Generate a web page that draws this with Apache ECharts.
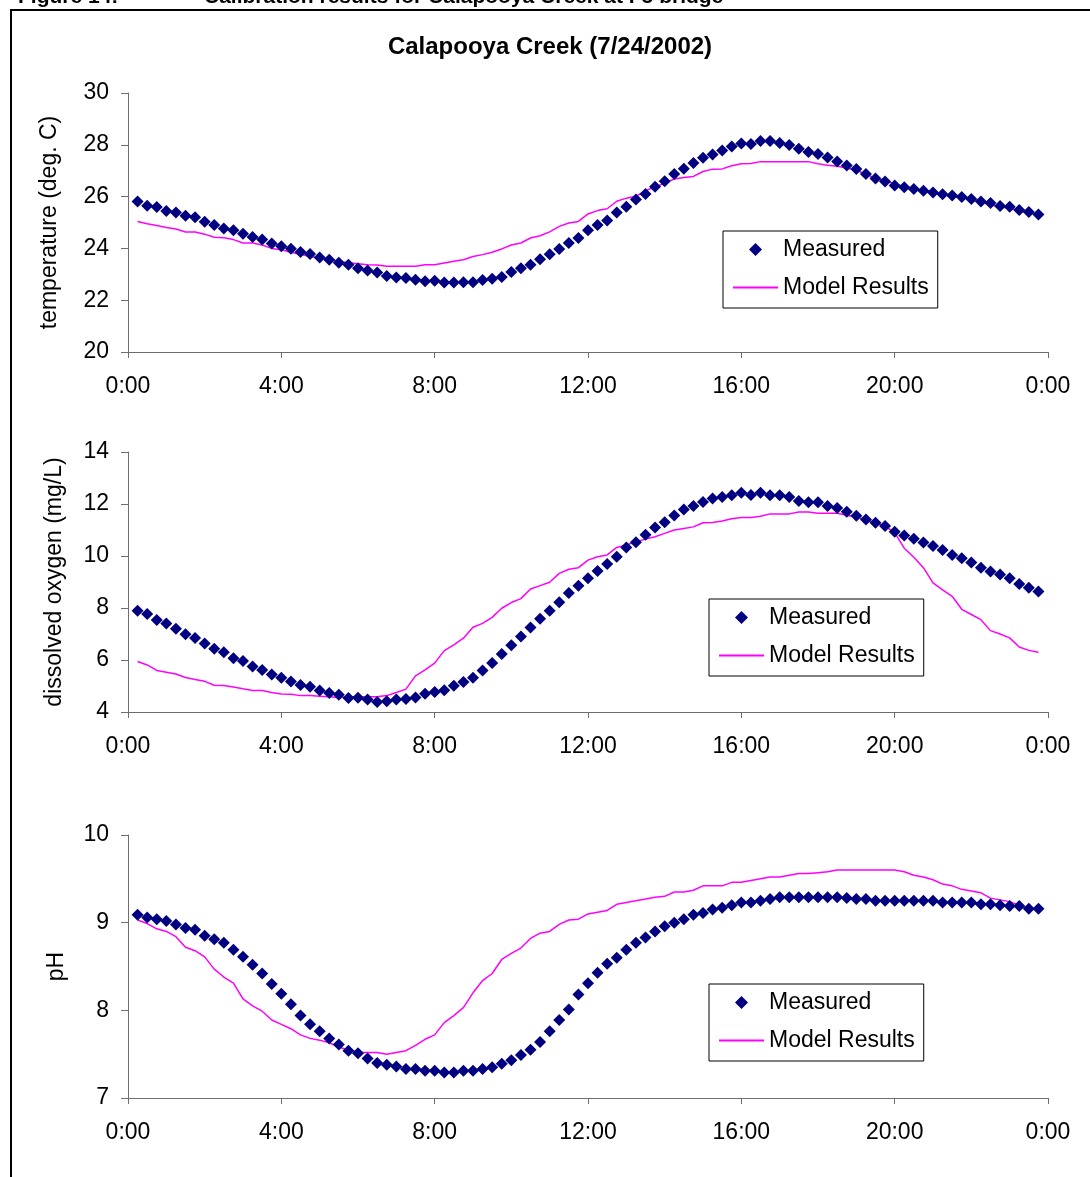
<!DOCTYPE html>
<html>
<head>
<meta charset="utf-8">
<script src="https://cdn.jsdelivr.net/npm/echarts@6/dist/echarts.min.js"></script>
<style>
  html, body { margin: 0; padding: 0; background: #fff; }
  #chart { width: 1090px; height: 1177px; }
</style>
</head>
<body>
<div id="chart"></div>
<script>
// readings every 15 minutes, 0:15 .. 23:45
const STEP_HOURS = 0.25

const tempMeasured = [
  25.81, 25.65, 25.6, 25.44, 25.39, 25.26, 25.2, 25.03, 24.9, 24.77,
  24.7, 24.57, 24.44, 24.34, 24.19, 24.08, 23.99, 23.86, 23.78, 23.65,
  23.56, 23.45, 23.37, 23.23, 23.15, 23.07, 22.93, 22.88, 22.86, 22.79,
  22.73, 22.75, 22.68, 22.68, 22.69, 22.69, 22.78, 22.83, 22.9, 23.09,
  23.23, 23.37, 23.58, 23.77, 23.98, 24.21, 24.4, 24.7, 24.9, 25.08,
  25.39, 25.61, 25.89, 26.1, 26.38, 26.59, 26.87, 27.08, 27.3, 27.5,
  27.63, 27.78, 27.93, 28.05, 28.03, 28.15, 28.15, 28.07, 27.99, 27.85,
  27.72, 27.64, 27.51, 27.36, 27.2, 27.07, 26.87, 26.7, 26.58, 26.43,
  26.36, 26.29, 26.23, 26.16, 26.09, 26.04, 25.98, 25.91, 25.81, 25.75,
  25.64, 25.61, 25.48, 25.41, 25.31
]
const tempModel = [
  25.04, 24.95, 24.88, 24.81, 24.75, 24.63, 24.63, 24.55, 24.43, 24.41,
  24.34, 24.21, 24.21, 24.13, 24.0, 23.95, 23.85, 23.77, 23.69, 23.63,
  23.56, 23.5, 23.45, 23.41, 23.37, 23.36, 23.31, 23.31, 23.31, 23.31,
  23.37, 23.37, 23.44, 23.5, 23.56, 23.69, 23.76, 23.85, 23.98, 24.13,
  24.21, 24.4, 24.49, 24.64, 24.85, 24.98, 25.04, 25.33, 25.46, 25.53,
  25.82, 25.94, 26.01, 26.23, 26.37, 26.52, 26.68, 26.74, 26.78, 26.97,
  27.06, 27.07, 27.19, 27.27, 27.28, 27.35, 27.35, 27.35, 27.35, 27.35,
  27.35, 27.27, 27.21, 27.17, 27.1, 27.02, 26.87, 26.7, 26.6, 26.5,
  26.38, 26.3, 26.22, 26.15, 26.08, 26.02, 25.96, 25.88, 25.78, 25.68,
  25.6, 25.55, 25.45, 25.38, 25.3
]

const doMeasured = [
  7.89, 7.77, 7.54, 7.4, 7.2, 6.99, 6.85, 6.63, 6.43, 6.3,
  6.07, 5.96, 5.75, 5.62, 5.44, 5.32, 5.17, 5.04, 4.97, 4.83,
  4.73, 4.66, 4.54, 4.55, 4.48, 4.38, 4.41, 4.48, 4.5, 4.56,
  4.7, 4.77, 4.84, 5.01, 5.15, 5.32, 5.6, 5.88, 6.23, 6.57,
  6.9, 7.25, 7.59, 7.89, 8.22, 8.58, 8.86, 9.14, 9.42, 9.69,
  9.97, 10.33, 10.53, 10.82, 11.1, 11.3, 11.56, 11.79, 11.92, 12.08,
  12.21, 12.27, 12.34, 12.43, 12.35, 12.43, 12.34, 12.34, 12.27, 12.12,
  12.07, 12.07, 11.92, 11.85, 11.7, 11.55, 11.4, 11.28, 11.15, 10.93,
  10.79, 10.66, 10.52, 10.38, 10.23, 10.04, 9.91, 9.75, 9.55, 9.4,
  9.29, 9.14, 8.92, 8.78, 8.63
]
const doModel = [
  5.94, 5.81, 5.6, 5.53, 5.46, 5.33, 5.25, 5.18, 5.03, 5.02,
  4.96, 4.89, 4.83, 4.83, 4.75, 4.69, 4.68, 4.63, 4.63, 4.61,
  4.59, 4.56, 4.59, 4.59, 4.59, 4.59, 4.63, 4.75, 4.88, 5.39,
  5.62, 5.88, 6.36, 6.58, 6.84, 7.26, 7.41, 7.64, 7.99, 8.21,
  8.36, 8.73, 8.86, 8.99, 9.33, 9.49, 9.55, 9.84, 9.97, 10.04,
  10.33, 10.42, 10.55, 10.65, 10.74, 10.87, 11.0, 11.06, 11.12, 11.28,
  11.29, 11.35, 11.43, 11.48, 11.48, 11.53, 11.62, 11.62, 11.62, 11.69,
  11.69, 11.64, 11.64, 11.64, 11.57, 11.5, 11.4, 11.28, 11.15, 10.9,
  10.3, 9.95, 9.55, 8.97, 8.7, 8.45, 7.95, 7.75, 7.55, 7.13,
  7.0, 6.85, 6.5, 6.37, 6.3
]

const phMeasured = [
  9.09, 9.06, 9.04, 9.02, 8.98, 8.94, 8.92, 8.85, 8.81, 8.77,
  8.69, 8.61, 8.52, 8.42, 8.3, 8.19, 8.07, 7.94, 7.84, 7.76,
  7.68, 7.61, 7.54, 7.51, 7.45, 7.4, 7.38, 7.36, 7.33, 7.33,
  7.31, 7.31, 7.29, 7.29, 7.31, 7.31, 7.33, 7.35, 7.39, 7.43,
  7.49, 7.55, 7.64, 7.76, 7.89, 8.01, 8.18, 8.31, 8.43, 8.53,
  8.6, 8.69, 8.77, 8.83, 8.9, 8.96, 9.0, 9.04, 9.09, 9.11,
  9.15, 9.17, 9.2, 9.23, 9.23, 9.25, 9.27, 9.29, 9.29, 9.29,
  9.29, 9.29, 9.29, 9.29, 9.28, 9.27, 9.27, 9.25, 9.25, 9.25,
  9.25, 9.25, 9.25, 9.25, 9.23, 9.23, 9.23, 9.23, 9.21, 9.21,
  9.2, 9.19, 9.19, 9.16, 9.16
]
const phModel = [
  9.03, 8.99, 8.93, 8.9, 8.84, 8.72, 8.68, 8.61, 8.47, 8.38,
  8.31, 8.13, 8.05, 7.99, 7.89, 7.84, 7.79, 7.72, 7.68, 7.66,
  7.63, 7.58, 7.55, 7.52, 7.52, 7.52, 7.5, 7.52, 7.54, 7.6,
  7.67, 7.72, 7.86, 7.94, 8.03, 8.2, 8.34, 8.42, 8.58, 8.65,
  8.71, 8.82, 8.88, 8.9, 8.98, 9.03, 9.04, 9.1, 9.12, 9.14,
  9.21, 9.23, 9.25, 9.27, 9.29, 9.3, 9.35, 9.35, 9.37, 9.42,
  9.42, 9.42, 9.46, 9.46, 9.48, 9.5, 9.52, 9.52, 9.54, 9.56,
  9.56, 9.57, 9.58, 9.6, 9.6, 9.6, 9.6, 9.6, 9.6, 9.6,
  9.58, 9.54, 9.52, 9.49, 9.44, 9.42, 9.38, 9.36, 9.34, 9.28,
  9.26, 9.24, 9.2, 9.16, 9.15
]

const hourTicks = [0, 4, 8, 12, 16, 20, 24]
const times = tempMeasured.map((v, i) => (i + 1) * STEP_HOURS)

const FONT = 'Liberation Sans, Arial, sans-serif'
const AXIS_GREY = '#6e6e6e'
const NAVY = '#000080'
const MAGENTA = '#ff00ff'

const pair = arr => arr.map((v, i) => [times[i], v])

const panels = [
  { top: 93, height: 259, name: 'temperature (deg. C)', min: 20, max: 30, step: 2, gap: 67,
    measured: tempMeasured, model: tempModel, legendLeft: 723, legendTop: 231 },
  { top: 452, height: 260, name: 'dissolved oxygen (mg/L)', min: 4, max: 14, step: 2, gap: 62,
    measured: doMeasured, model: doModel, legendLeft: 709, legendTop: 599 },
  { top: 835, height: 263, name: 'pH', min: 7, max: 10, step: 1, gap: 60,
    measured: phMeasured, model: phModel, legendLeft: 709, legendTop: 984 }
]

const grid = panels.map(p => ({
  left: 128, top: p.top, width: 920, height: p.height,
  containLabel: false, outerBoundsMode: 'none'
}))

const xAxis = panels.map((p, i) => ({
  type: 'value', gridIndex: i,
  min: hourTicks[0], max: hourTicks[hourTicks.length - 1], interval: 4,
  axisLine: { lineStyle: { color: AXIS_GREY, width: 1 } },
  axisTick: { show: true, length: 6, lineStyle: { color: AXIS_GREY } },
  axisLabel: {
    margin: 23, color: '#000', fontSize: 23, fontFamily: FONT,
    formatter: v => (v % 24) + ':00'
  },
  splitLine: { show: false }
}))

const yAxis = panels.map((p, i) => ({
  type: 'value', gridIndex: i,
  min: p.min, max: p.max, interval: p.step,
  name: p.name, nameLocation: 'middle', nameGap: p.gap,
  nameTextStyle: { color: '#000', fontSize: 23, fontFamily: FONT },
  axisLine: { show: true, lineStyle: { color: AXIS_GREY, width: 1 } },
  axisTick: { show: true, length: 7, lineStyle: { color: AXIS_GREY } },
  axisLabel: { margin: 19, color: '#000', fontSize: 23, fontFamily: FONT },
  splitLine: { show: false }
}))

const series = []
panels.forEach((p, i) => {
  series.push({
    name: 'Model Results', type: 'line', xAxisIndex: i, yAxisIndex: i,
    data: pair(p.model), symbol: 'none', showSymbol: false,
    lineStyle: { color: MAGENTA, width: 1.5 }, itemStyle: { color: MAGENTA },
    z: 2
  })
  series.push({
    name: 'Measured', type: 'scatter', xAxisIndex: i, yAxisIndex: i,
    data: pair(p.measured), symbol: 'diamond', symbolSize: 12,
    itemStyle: { color: NAVY, opacity: 1 }, z: 3
  })
})

const legend = panels.map(p => ({
  left: p.legendLeft, top: p.legendTop, orient: 'vertical',
  data: [
    { name: 'Measured', icon: 'path://M5,0L10,5L5,10L0,5Z', itemStyle: { color: NAVY, opacity: 1 } },
    { name: 'Model Results', itemStyle: { opacity: 0 } }
  ],
  symbolKeepAspect: true,
  itemWidth: 45, itemHeight: 13, itemGap: 15,
  padding: [7, 9, 9, 9],
  borderColor: '#000', borderWidth: 1, backgroundColor: '#fff',
  textStyle: { color: '#000', fontSize: 23, fontFamily: FONT },
  selectedMode: false
}))

const myChart = echarts.init(document.getElementById('chart'), null, { renderer: 'canvas' })
myChart.setOption({
  animation: false,
  backgroundColor: '#fff',
  grid: grid,
  xAxis: xAxis,
  yAxis: yAxis,
  legend: legend,
  series: series,
  graphic: [
    {
      type: 'rect', silent: true, z: 0,
      shape: { x: 11, y: 10, width: 1200, height: 1300 },
      style: { fill: 'none', stroke: '#000', lineWidth: 2 }
    },
    {
      type: 'text', x: 18, y: 8, silent: true,
      style: { text: 'Figure 14:', font: 'bold 21px ' + FONT, fill: '#000', verticalAlign: 'bottom' }
    },
    {
      type: 'text', x: 204, y: 8, silent: true,
      style: { text: 'Calibration results for Calapooya Creek at I-5 bridge', font: 'bold 21px ' + FONT, fill: '#000', verticalAlign: 'bottom' }
    },
    {
      type: 'text', x: 550, y: 47, silent: true,
      style: { text: 'Calapooya Creek (7/24/2002)', font: 'bold 24px ' + FONT, fill: '#000', align: 'center', verticalAlign: 'middle' }
    }
  ]
})
</script>
</body>
</html>
